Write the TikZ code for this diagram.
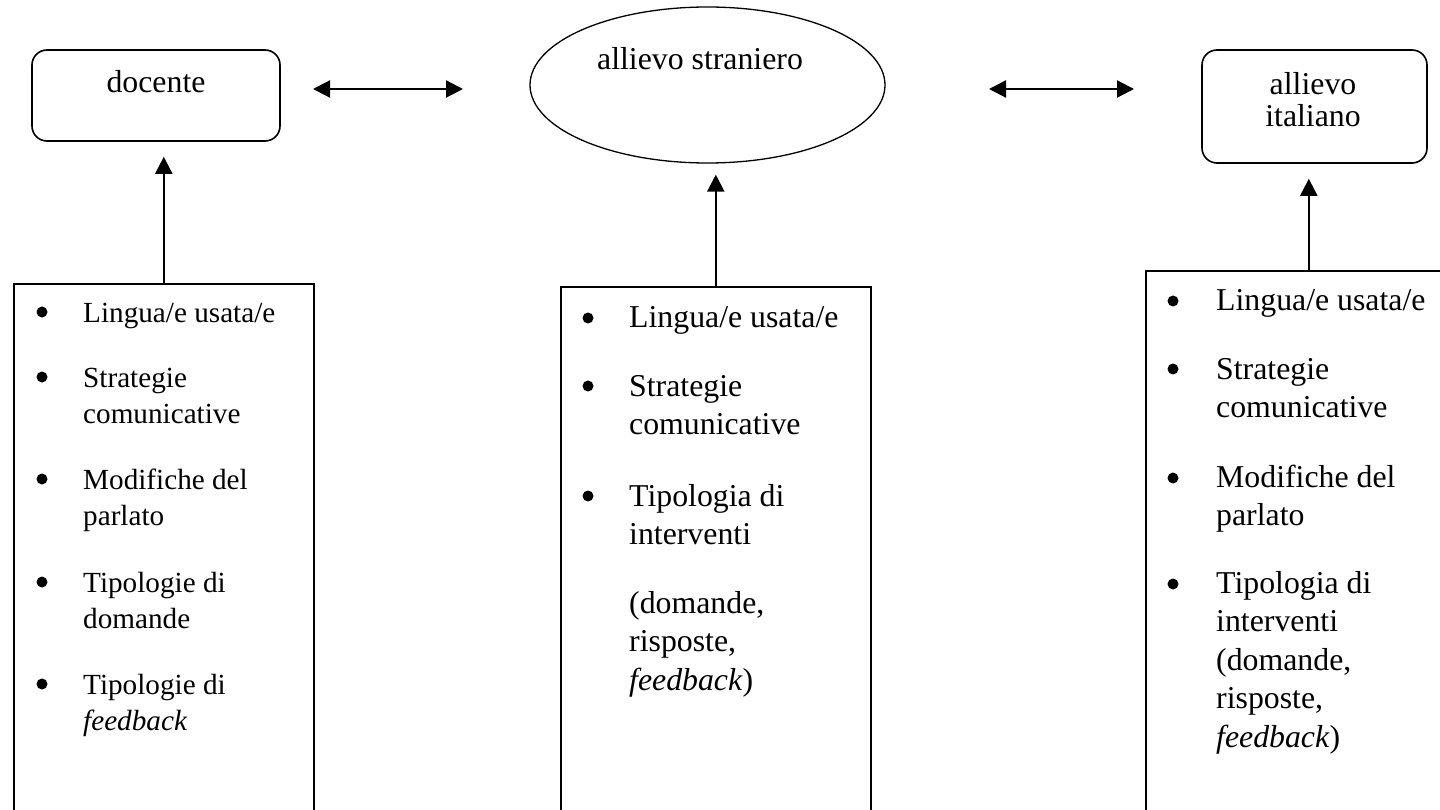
\documentclass[tikz,border=0pt]{standalone}
\usepackage{fontspec}
\setmainfont{Liberation Serif}
\usetikzlibrary{arrows.meta,shapes.geometric}

\begin{document}
\begin{tikzpicture}[
  x=1pt, y=-1pt,
  roundbox/.style={draw, line width=1.6pt, rounded corners=15pt, inner sep=0pt},
  oval/.style={draw, ellipse, line width=1.3pt, inner sep=0pt},
  listbox/.style={draw, line width=1.6pt, inner sep=0pt, anchor=north west},
  label/.style={inner sep=0pt, anchor=base, align=center,
                font=\fontsize{31.8}{32}\selectfont},
  dot/.style={circle, fill, inner sep=0pt, minimum size=11pt},
  % multi-line nodes are anchored at the baseline of their last line
  itemA/.style={inner sep=0pt, anchor=base west, align=left,
                font=\fontsize{29.2}{36.7}\selectfont},
  itemB/.style={inner sep=0pt, anchor=base west, align=left,
                font=\fontsize{31.8}{38.5}\selectfont},
  tip/.style={Triangle[length=17pt,width=17pt]},
  link/.style={-{Triangle[length=17pt,width=17pt]}, line width=2.2pt},
  twoway/.style={{Triangle[length=17pt,width=17pt]}-{Triangle[length=17pt,width=17pt]}, line width=2.2pt},
]
\useasboundingbox (0,0) rectangle (1440,810);
\clip (0,0) rectangle (1440,810);

% top row: the three participants
\node[roundbox, minimum width=248pt, minimum height=91pt] (doc) at (156,95.5) {};
\node[label] (doct) at (156,93) {docente};

\node[oval, minimum width=355pt, minimum height=156pt] (str) at (707.5,85) {};
\node[label] (strt) at (700,70) {allievo straniero};

\node[roundbox, minimum width=225pt, minimum height=113pt] (ita) at (1314.5,106.5) {};
\node[label] (itat) at (1313,127) {allievo\\italiano};

% two-way links between participants
\coordinate (l1) at (313,89);
\coordinate (r1) at (463,89);
\coordinate (l2) at (989,89);
\coordinate (r2) at (1134,89);
\draw[twoway] (l1) -- (r1);
\draw[twoway] (l2) -- (r2);

% lower boxes with the observed features
\node[listbox, minimum width=300pt, minimum height=560pt] (lb) at (13,283) {};
\node[listbox, minimum width=310pt, minimum height=560pt] (mb) at (560,286) {};
\node[listbox, minimum width=326pt, minimum height=580pt] (rb) at (1145,270) {};

\draw[link, shorten >=15pt] (lb.north) -- (lb.north |- doc.south);
\draw[link, shorten >=11pt] (mb.north) -- (mb.north |- str.south);
\draw[link, shorten >=15pt] (rb.north) -- (rb.north |- ita.south);

% docente
\node[dot] (la) at (42,312) {};
\node[itemA] (lat) at (83,322) {Lingua/e usata/e};
\node[dot] (lbb) at (42,377) {};
\node[itemA] (lbt) at (83,423.7) {Strategie\\comunicative};
\node[dot] (lc) at (42,479) {};
\node[itemA] (lct) at (83,525.7) {Modifiche del\\parlato};
\node[dot] (ld) at (42,582) {};
\node[itemA] (ldt) at (83,628.7) {Tipologie di\\domande};
\node[dot] (le) at (42,684) {};
\node[itemA] (let) at (83,730.7) {Tipologie di\\\textit{feedback}};

% allievo straniero
\node[dot] (ma) at (588,318) {};
\node[itemB] (mat) at (629,327) {Lingua/e usata/e};
\node[dot] (mbb) at (588,386) {};
\node[itemB] (mbt) at (629,434.5) {Strategie\\comunicative};
\node[dot] (mc) at (588,496) {};
\node[itemB] (mct) at (629,544.5) {Tipologia di\\interventi};
\node[itemB] (mdt) at (629,690) {(domande,\\risposte,\\\textit{feedback})};

% allievo italiano
\node[dot] (ra) at (1173,301) {};
\node[itemB] (rat) at (1216,310) {Lingua/e usata/e};
\node[dot] (rbb) at (1173,369) {};
\node[itemB] (rbt) at (1216,417.5) {Strategie\\comunicative};
\node[dot] (rc) at (1173,478) {};
\node[itemB] (rct) at (1216,525.5) {Modifiche del\\parlato};
\node[dot] (rd) at (1173,584) {};
\node[itemB] (rdt) at (1216,747) {Tipologia di\\interventi\\(domande,\\risposte,\\\textit{feedback})};
\end{tikzpicture}
\end{document}
